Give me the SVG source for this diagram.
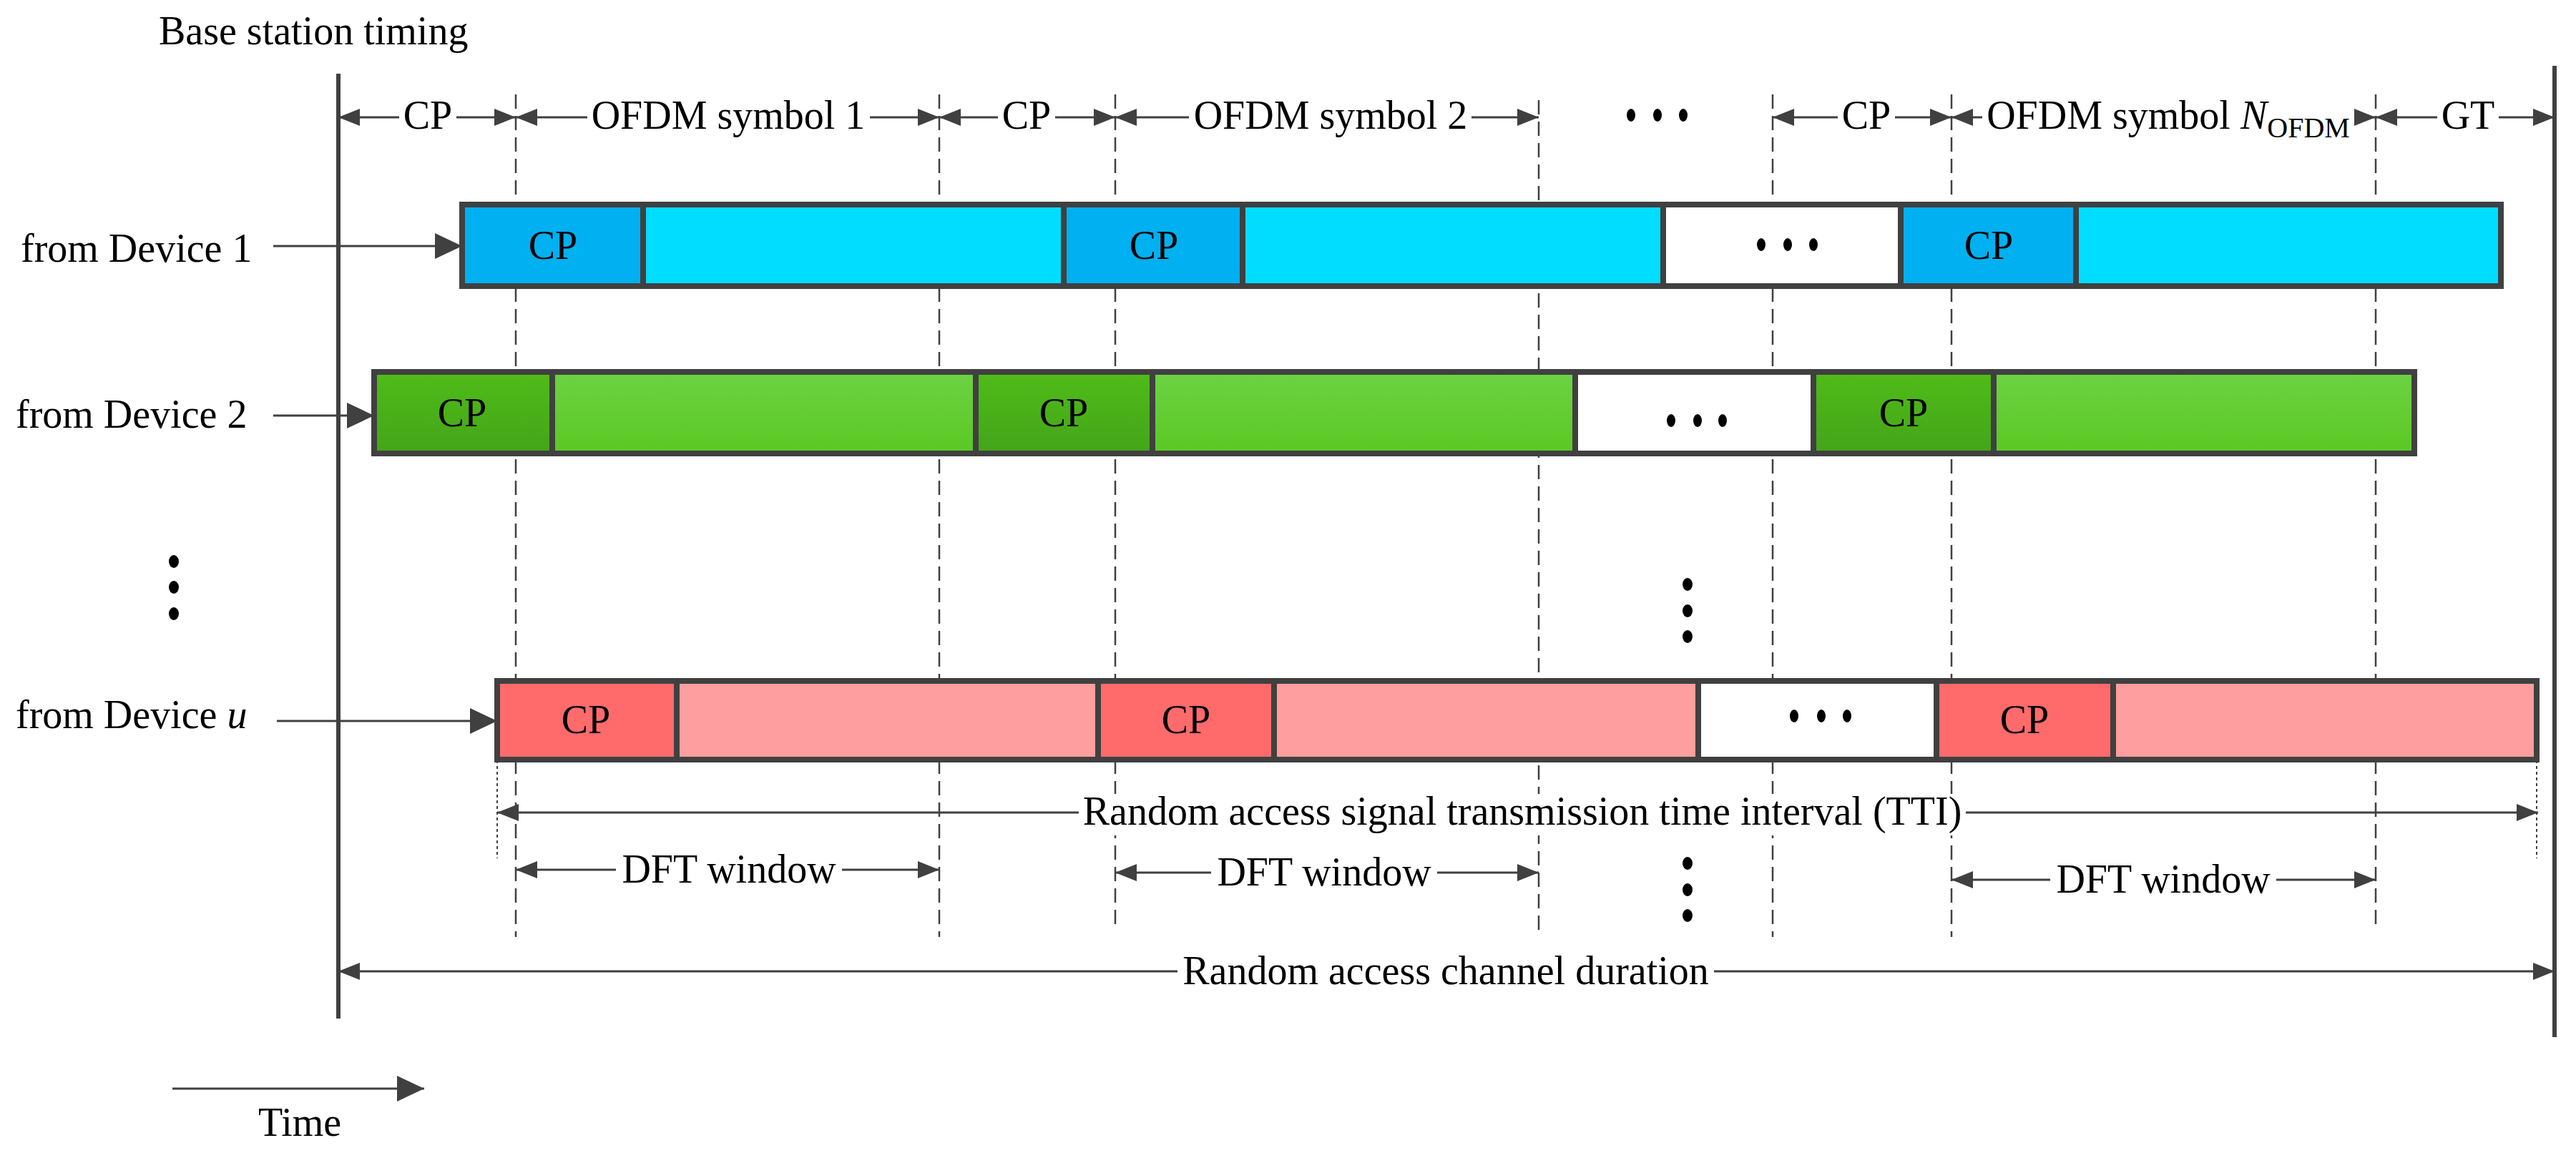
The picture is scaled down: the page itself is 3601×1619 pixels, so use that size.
<svg xmlns="http://www.w3.org/2000/svg" width="3601" height="1619" viewBox="0 0 3601 1619">
<defs>
<style>
text{font-family:"Liberation Serif","Times New Roman",serif;font-size:56px;fill:#000}
.c{text-anchor:middle}
.bg{fill:#fff}
.bar{stroke:#404040;stroke-width:8}
.dash{stroke:#404040;stroke-width:2.5;stroke-dasharray:20 10;fill:none}
.dot{stroke:#404040;stroke-width:2;stroke-dasharray:4 4;fill:none}
.ln{stroke:#404040;stroke-width:3;fill:none}
.da{marker-start:url(#ah);marker-end:url(#ah)}
.big{marker-end:url(#bh)}
.ell{fill:#000}
</style>
<marker id="ah" markerUnits="userSpaceOnUse" markerWidth="32" markerHeight="26" refX="30" refY="12" orient="auto-start-reverse"><path d="M0,0 L30,12 L0,24 z" fill="#404040"/></marker>
<marker id="bh" markerUnits="userSpaceOnUse" markerWidth="40" markerHeight="40" refX="38" refY="18" orient="auto"><path d="M0,0 L38,18 L0,36 z" fill="#404040"/></marker>
<linearGradient id="g2cp" x1="0" y1="0" x2="0" y2="1"><stop offset="0" stop-color="#4FBC18"/><stop offset="1" stop-color="#44A41A"/></linearGradient>
<linearGradient id="g2d" x1="0" y1="0" x2="0" y2="1"><stop offset="0" stop-color="#6CD244"/><stop offset="1" stop-color="#5BC823"/></linearGradient>
</defs>

<g id="axes">
<line class="ln" x1="473" y1="103" x2="473" y2="1424" style="stroke-width:6"/>
<line class="ln" x1="3571" y1="92" x2="3571" y2="1450" style="stroke-width:6"/>
<text x="222" y="62">Base station timing</text>
</g>

<g id="dashes">
<line class="dash" x1="721" y1="132" x2="721" y2="1310"/>
<line class="dash" x1="1313" y1="132" x2="1313" y2="1310"/>
<line class="dash" x1="1559" y1="132" x2="1559" y2="1300"/>
<line class="dash" x1="2151" y1="140" x2="2151" y2="1310"/>
<line class="dash" x1="2478" y1="132" x2="2478" y2="1310"/>
<line class="dash" x1="2728" y1="132" x2="2728" y2="1310"/>
<line class="dash" x1="3321" y1="132" x2="3321" y2="1300"/>
<line class="dot" x1="695" y1="1063" x2="695" y2="1200"/>
<line class="dot" x1="3546" y1="1063" x2="3546" y2="1200"/>
</g>

<g id="connectors">
<line class="ln da" x1="473" y1="164" x2="721" y2="164"/>
<line class="ln da" x1="721" y1="164" x2="1313" y2="164"/>
<line class="ln da" x1="1313" y1="164" x2="1559" y2="164"/>
<line class="ln da" x1="1559" y1="164" x2="2151" y2="164"/>
<line class="ln da" x1="2478" y1="164" x2="2728" y2="164"/>
<line class="ln da" x1="2728" y1="164" x2="3321" y2="164"/>
<line class="ln da" x1="3321" y1="164" x2="3571" y2="164"/>
<line class="ln big" x1="382" y1="344" x2="646" y2="344"/>
<line class="ln big" x1="382" y1="581" x2="523" y2="581"/>
<line class="ln big" x1="387" y1="1008" x2="695" y2="1008"/>
<line class="ln da" x1="695" y1="1136" x2="3548" y2="1136"/>
<line class="ln da" x1="721" y1="1216" x2="1313" y2="1216"/>
<line class="ln da" x1="1559" y1="1220" x2="2151" y2="1220"/>
<line class="ln da" x1="2728" y1="1230" x2="3321" y2="1230"/>
<line class="ln da" x1="473" y1="1358" x2="3571" y2="1358"/>
<line class="ln big" x1="241" y1="1522" x2="593" y2="1522"/>
</g>

<g id="toplabels">
<rect class="bg" x="558" y="138" width="80" height="52"/>
<text class="c" x="598" y="180">CP</text>
<rect class="bg" x="821" y="138" width="395" height="52"/>
<text class="c" x="1018" y="180">OFDM symbol 1</text>
<rect class="bg" x="1395" y="138" width="80" height="52"/>
<text class="c" x="1435" y="180">CP</text>
<rect class="bg" x="1662" y="138" width="395" height="52"/>
<text class="c" x="1860" y="180">OFDM symbol 2</text>
<ellipse class="ell" cx="2280" cy="161" rx="6" ry="9"/><ellipse class="ell" cx="2317" cy="161" rx="6" ry="9"/><ellipse class="ell" cx="2353" cy="161" rx="6" ry="9"/>
<rect class="bg" x="2569" y="138" width="80" height="52"/>
<text class="c" x="2609" y="180">CP</text>
<rect class="bg" x="2771" y="138" width="520" height="52"/>
<text class="c" x="3031" y="180">OFDM symbol <tspan font-style="italic">N</tspan><tspan font-size="40" dy="12">OFDM</tspan></text>
<rect class="bg" x="3407" y="138" width="86" height="52"/>
<text class="c" x="3450" y="180">GT</text>
</g>

<g id="device1">
<text x="29" y="366">from Device 1</text>
<rect class="bar" x="646" y="286" width="253" height="114" fill="#00B0F0"/>
<rect class="bar" x="899" y="286" width="588" height="114" fill="#00DDFF"/>
<rect class="bar" x="1487" y="286" width="250" height="114" fill="#00B0F0"/>
<rect class="bar" x="1737" y="286" width="588" height="114" fill="#00DDFF"/>
<rect class="bar" x="2325" y="286" width="332" height="114" fill="#fff"/>
<rect class="bar" x="2657" y="286" width="245" height="114" fill="#00B0F0"/>
<rect class="bar" x="2902" y="286" width="594" height="114" fill="#00DDFF"/>
<text class="c" x="773" y="362">CP</text>
<text class="c" x="1613" y="362">CP</text>
<text class="c" x="2780" y="362">CP</text>
<ellipse class="ell" cx="2462" cy="342" rx="6" ry="9"/><ellipse class="ell" cx="2499" cy="342" rx="6" ry="9"/><ellipse class="ell" cx="2535" cy="342" rx="6" ry="9"/>
</g>

<g id="device2">
<text x="22" y="598">from Device 2</text>
<rect class="bar" x="523" y="520" width="249" height="114" fill="url(#g2cp)"/>
<rect class="bar" x="772" y="520" width="592" height="114" fill="url(#g2d)"/>
<rect class="bar" x="1364" y="520" width="247" height="114" fill="url(#g2cp)"/>
<rect class="bar" x="1611" y="520" width="591" height="114" fill="url(#g2d)"/>
<rect class="bar" x="2202" y="520" width="333" height="114" fill="#fff"/>
<rect class="bar" x="2535" y="520" width="252" height="114" fill="url(#g2cp)"/>
<rect class="bar" x="2787" y="520" width="588" height="114" fill="url(#g2d)"/>
<text class="c" x="646" y="596">CP</text>
<text class="c" x="1487" y="596">CP</text>
<text class="c" x="2661" y="596">CP</text>
<ellipse class="ell" cx="2336" cy="588" rx="6" ry="9"/><ellipse class="ell" cx="2373" cy="588" rx="6" ry="9"/><ellipse class="ell" cx="2408" cy="588" rx="6" ry="9"/>
</g>

<g id="vdots">
<ellipse class="ell" cx="243" cy="785" rx="7" ry="9"/><ellipse class="ell" cx="243" cy="821" rx="7" ry="9"/><ellipse class="ell" cx="243" cy="858" rx="7" ry="9"/>
<ellipse class="ell" cx="2359" cy="817" rx="7" ry="9"/><ellipse class="ell" cx="2359" cy="854" rx="7" ry="9"/><ellipse class="ell" cx="2359" cy="890" rx="7" ry="9"/>
<ellipse class="ell" cx="2359" cy="1207" rx="7" ry="9"/><ellipse class="ell" cx="2359" cy="1244" rx="7" ry="9"/><ellipse class="ell" cx="2359" cy="1280" rx="7" ry="9"/>
</g>

<g id="deviceu">
<text x="22" y="1018">from Device <tspan font-style="italic">u</tspan></text>
<rect class="bar" x="695" y="952" width="251" height="110" fill="#FF6B6B"/>
<rect class="bar" x="946" y="952" width="589" height="110" fill="#FF9E9E"/>
<rect class="bar" x="1535" y="952" width="246" height="110" fill="#FF6B6B"/>
<rect class="bar" x="1781" y="952" width="593" height="110" fill="#FF9E9E"/>
<rect class="bar" x="2374" y="952" width="333" height="110" fill="#fff"/>
<rect class="bar" x="2707" y="952" width="247" height="110" fill="#FF6B6B"/>
<rect class="bar" x="2954" y="952" width="592" height="110" fill="#FF9E9E"/>
<text class="c" x="819" y="1025">CP</text>
<text class="c" x="1658" y="1025">CP</text>
<text class="c" x="2830" y="1025">CP</text>
<ellipse class="ell" cx="2508" cy="1001" rx="6" ry="9"/><ellipse class="ell" cx="2546" cy="1001" rx="6" ry="9"/><ellipse class="ell" cx="2582" cy="1001" rx="6" ry="9"/>
</g>

<g id="bottomlabels">
<rect class="bg" x="1508" y="1110" width="1240" height="58"/>
<text class="c" x="2128" y="1153">Random access signal transmission time interval (TTI)</text>
<rect class="bg" x="861" y="1192" width="316" height="52"/>
<text class="c" x="1019" y="1234">DFT window</text>
<rect class="bg" x="1693" y="1196" width="316" height="52"/>
<text class="c" x="1851" y="1238">DFT window</text>
<rect class="bg" x="2866" y="1206" width="316" height="52"/>
<text class="c" x="3024" y="1248">DFT window</text>
<rect class="bg" x="1646" y="1334" width="750" height="52"/>
<text class="c" x="2021" y="1376">Random access channel duration</text>
<text class="c" x="419" y="1588">Time</text>
</g>
</svg>
